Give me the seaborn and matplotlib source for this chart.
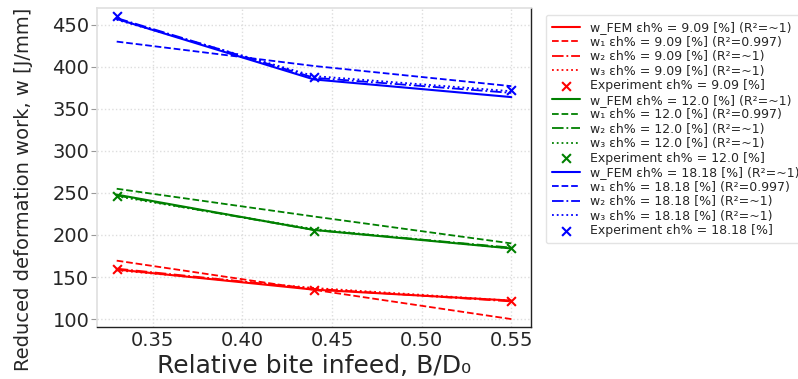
import matplotlib
matplotlib.use("Agg")
import matplotlib.pyplot as plt
import seaborn as sns
import pandas as pd

# Data
x_vals = [0.33, 0.44, 0.55]
eps_labels = ["9.09", "12.0", "18.18"]
colors = ["red", "green", "blue"]

fem = {
    "9.09": [159, 135, 122],
    "12.0": [248, 206, 184],
    "18.18": [457, 385, 364],
}
w1 = {
    "9.09": [169.5, 134.8, 100],
    "12.0": [255, 222, 190],
    "18.18": [430, 401, 377],
}
w2 = {
    "9.09": [160, 136, 121],
    "12.0": [247, 206, 185],
    "18.18": [458, 387, 369],
}
w3 = {
    "9.09": [158, 137, 122],
    "12.0": [246, 207, 184],
    "18.18": [456, 389, 371],
}
experiment = {
    "9.09": [160, 135, 121],
    "12.0": [246, 205, 185],
    "18.18": [461, 388, 372],
}
r2_w1 = "0.997"

sns.set_theme(style="whitegrid")
plt.rcParams['font.family'] = ['DejaVu Sans']

fig = plt.figure(figsize=(7.98, 3.79), dpi=100)
ax = fig.add_axes([0.1215, 0.137, 0.544, 0.842])

for eps, c in zip(eps_labels, colors):
    df = pd.DataFrame({"x": x_vals, "fem": fem[eps], "w1": w1[eps], "w2": w2[eps],
                       "w3": w3[eps], "exp": experiment[eps]})
    sns.lineplot(data=df, x="x", y="fem", ax=ax, color=c, lw=1.5, ls="-",
                 label=f"w_FEM εh% = {eps} [%] (R²=~1)")
    sns.lineplot(data=df, x="x", y="w1", ax=ax, color=c, lw=1.3, ls="--",
                 label=f"w₁ εh% = {eps} [%] (R²={r2_w1})")
    sns.lineplot(data=df, x="x", y="w2", ax=ax, color=c, lw=1.3, ls="-.",
                 label=f"w₂ εh% = {eps} [%] (R²=~1)")
    sns.lineplot(data=df, x="x", y="w3", ax=ax, color=c, lw=1.3, ls=":",
                 label=f"w₃ εh% = {eps} [%] (R²=~1)")
    sns.scatterplot(data=df, x="x", y="exp", ax=ax, color=c, marker="x", s=40,
                    linewidth=1.5, label=f"Experiment εh% = {eps} [%]", zorder=5)

ax.set_ylim(90.5, 470)
ax.set_xlim(0.319, 0.561)
ax.set_xticks([0.35, 0.40, 0.45, 0.50, 0.55])
ax.set_yticks([100, 150, 200, 250, 300, 350, 400, 450])
ax.tick_params(axis="both", labelsize=14, color="#999999")
ax.tick_params(axis="y", left=True, length=4.5, width=0.8, pad=1)
ax.tick_params(axis="x", bottom=False, length=0, pad=3)
ax.grid(True, ls=":", color="#dddddd", lw=1)
ax.set_xlabel("Relative bite infeed, B/D₀", fontsize=18, labelpad=3)
ax.set_ylabel("Reduced deformation work, w [J/mm]", fontsize=14, labelpad=4)
ax.yaxis.set_label_coords(-0.148, 0.43)

for s in ["left", "top"]:
    ax.spines[s].set_color("#e0e0e0")
for s in ["right", "bottom"]:
    ax.spines[s].set_color("#222222")
    ax.spines[s].set_linewidth(1.0)

leg = ax.legend(loc="upper left", bbox_to_anchor=(1.034, 0.978), fontsize=9.0,
                frameon=True, labelspacing=0.12, handlelength=2.2,
                borderaxespad=0.0, borderpad=0.5)
leg.get_frame().set_edgecolor("#dddddd")

fig.savefig("out.png", dpi=100)
